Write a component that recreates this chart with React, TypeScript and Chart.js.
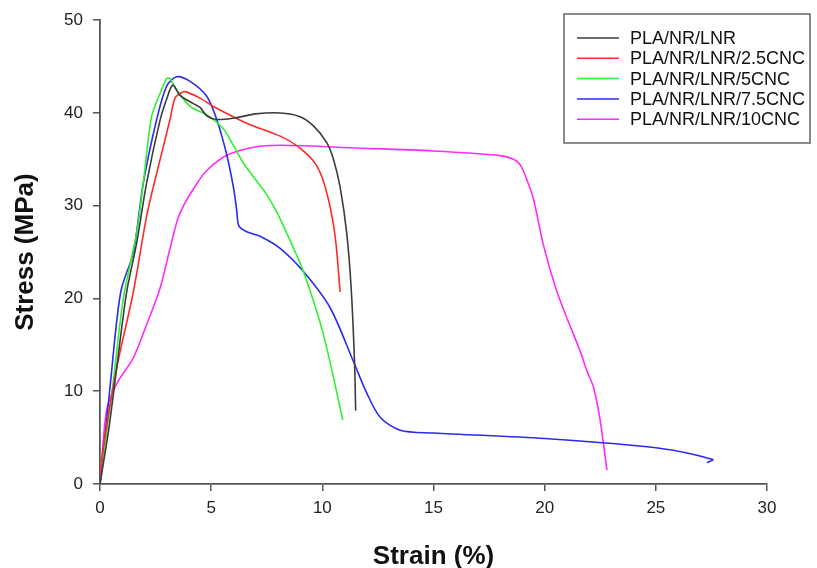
import React, { useEffect, useRef } from "react";
import { Chart, registerables } from "chart.js";

Chart.register(...registerables);

const seriesNames = [
  "PLA/NR/LNR",
  "PLA/NR/LNR/2.5CNC",
  "PLA/NR/LNR/5CNC",
  "PLA/NR/LNR/7.5CNC",
  "PLA/NR/LNR/10CNC",
];
const seriesColors = ["#3c3c3c", "#ff2a2a", "#2ef02e", "#2a2af0", "#ff2aff"];

const xTicks = [0, 5, 10, 15, 20, 25, 30];
const yTicks = [0, 10, 20, 30, 40, 50];

const strain0 = [0, 0.4, 0.75, 1.2, 1.65, 2.1, 2.7, 3.0, 3.27, 3.6, 4.2, 4.5, 4.8, 5.25, 6.15, 7.0, 8.1, 9.0, 9.6, 10.2, 10.5, 10.8, 11.1, 11.3, 11.45, 11.5];
const stress0 = [0, 6, 12.5, 20.7, 26, 32.5, 39.2, 41.5, 43.0, 41.9, 41.0, 40.6, 39.7, 39.3, 39.5, 39.9, 40.0, 39.6, 38.6, 36.8, 35.0, 32.0, 27.0, 21.0, 13.0, 7.9];

const strain1 = [0, 0.15, 0.75, 1.5, 2.1, 2.55, 3.15, 3.37, 3.6, 3.82, 4.5, 5.1, 6.6, 8.1, 9.0, 9.75, 10.2, 10.57, 10.8];
const stress1 = [0, 4, 12.5, 20.7, 28.9, 33.5, 39.3, 41.6, 42.1, 42.3, 41.6, 40.7, 38.9, 37.5, 36.2, 34.3, 31.4, 26.8, 20.7];

const strain2 = [0, 0.6, 1.05, 1.65, 1.95, 2.32, 2.7, 3.0, 3.15, 3.45, 4.05, 4.8, 5.55, 6.0, 6.45, 7.0, 7.5, 7.95, 8.5, 9.15, 10.05, 10.92];
const stress2 = [0, 11.1, 20, 27.1, 32.5, 39.6, 42.1, 43.7, 43.7, 42.5, 40.7, 39.8, 38.3, 36.5, 34.6, 32.8, 31.2, 29.3, 26.5, 22.9, 16.1, 6.9];

const strain3 = [0, 0.45, 0.75, 0.97, 1.5, 1.95, 2.55, 3.0, 3.45, 4.05, 4.8, 5.25, 5.7, 6.0, 6.15, 6.25, 6.6, 7.2, 8.1, 9.15, 10.35, 11.4, 12.0, 12.6, 13.5, 15, 20, 25, 27.56, 27.3];
const stress3 = [0, 10.4, 17.5, 21.1, 25, 32.5, 39.3, 42.9, 43.9, 43.4, 41.8, 39.3, 35.5, 32, 29.5, 27.8, 27.2, 26.7, 25.4, 22.9, 19, 13.2, 9.8, 7.2, 5.8, 5.5, 4.9, 3.9, 2.64, 2.3];

const strain4 = [0, 0.3, 0.75, 1.5, 2.1, 2.7, 3.15, 3.5, 3.8, 4.2, 4.8, 5.85, 7.65, 11.7, 15, 18, 18.6, 18.9, 19.2, 19.5, 19.95, 20.5, 21.0, 21.6, 21.9, 22.2, 22.5, 22.8];
const stress4 = [0, 8, 10.8, 13.6, 17.2, 21.1, 25.4, 28.6, 30.2, 31.8, 33.8, 35.6, 36.5, 36.2, 35.9, 35.4, 35.0, 34.4, 32.8, 30.7, 25.7, 21.1, 17.9, 14.3, 12.2, 10.4, 6.8, 1.5];

const strains = [strain0, strain1, strain2, strain3, strain4];
const stresses = [stress0, stress1, stress2, stress3, stress4];

const FONT = "'Liberation Sans', Arial, sans-serif";

const boxLegend = {
  id: "boxLegend",
  afterDraw(chart: any) {
    const ctx = chart.ctx;
    ctx.save();
    ctx.strokeStyle = "#666";
    ctx.lineWidth = 1.5;
    ctx.strokeRect(564, 14, 246, 129);
    ctx.font = `18px ${FONT}`;
    ctx.textBaseline = "middle";
    ctx.textAlign = "left";
    seriesNames.forEach((name, i) => {
      const y = 38 + i * 20.3;
      ctx.strokeStyle = seriesColors[i];
      ctx.lineWidth = 1.5;
      ctx.beginPath();
      ctx.moveTo(577, y);
      ctx.lineTo(619, y);
      ctx.stroke();
      ctx.fillStyle = "#111";
      ctx.fillText(name, 630, y + 1);
    });
    ctx.restore();
  },
};

export default function App() {
  const ref = useRef<HTMLCanvasElement | null>(null);
  useEffect(() => {
    if (!ref.current) return;
    const datasets = seriesNames.map((name, i) => ({
      label: name,
      data: strains[i].map((x, j) => ({ x, y: stresses[i][j] })),
      borderColor: seriesColors[i],
      backgroundColor: seriesColors[i],
      borderWidth: 1.6,
      pointRadius: 0,
      tension: 0.3,
      fill: false,
    }));
    const chart = new Chart(ref.current, {
      type: "line",
      data: { datasets },
      options: {
        responsive: false,
        animation: false,
        devicePixelRatio: 1,
        layout: { padding: { left: 0, right: 50, top: 16, bottom: 0 } },
        plugins: { legend: { display: false }, tooltip: { enabled: false } },
        scales: {
          x: {
            type: "linear",
            min: 0,
            max: 30,
            afterFit: (s: any) => { s.height = 84; },
            afterBuildTicks: (s: any) => { s.ticks = xTicks.map((v) => ({ value: v })); },
            grid: { drawOnChartArea: false, drawTicks: true, tickLength: 7, color: "#555", lineWidth: 1.5 },
            border: { display: true, color: "#555", width: 1.8 },
            ticks: { color: "#222", font: { family: FONT, size: 17 }, padding: 7, maxRotation: 0 },
            title: { display: true, text: "Strain (%)", color: "#111", font: { family: FONT, size: 26, weight: "bold", lineHeight: 0.85 }, padding: { top: 0, bottom: 0 } },
          },
          y: {
            type: "linear",
            min: 0,
            max: 50,
            afterFit: (s: any) => { s.width = 100; },
            afterBuildTicks: (s: any) => { s.ticks = yTicks.map((v) => ({ value: v })); },
            grid: { drawOnChartArea: false, drawTicks: true, tickLength: 7, color: "#555", lineWidth: 1.5 },
            border: { display: true, color: "#555", width: 1.8 },
            ticks: { color: "#222", font: { family: FONT, size: 17 }, padding: 10 },
            title: { display: true, text: "Stress (MPa)", color: "#111", font: { family: FONT, size: 26, weight: "bold", lineHeight: 1.2 }, padding: { top: 10, bottom: 0 } },
          },
        },
      },
      plugins: [boxLegend],
    });
    return () => chart.destroy();
  }, []);
  return (
    <div style={{ position: "absolute", left: 0, top: 0, width: 817, height: 568, background: "#fff" }}>
      <canvas ref={ref} width={817} height={568} />
    </div>
  );
}
